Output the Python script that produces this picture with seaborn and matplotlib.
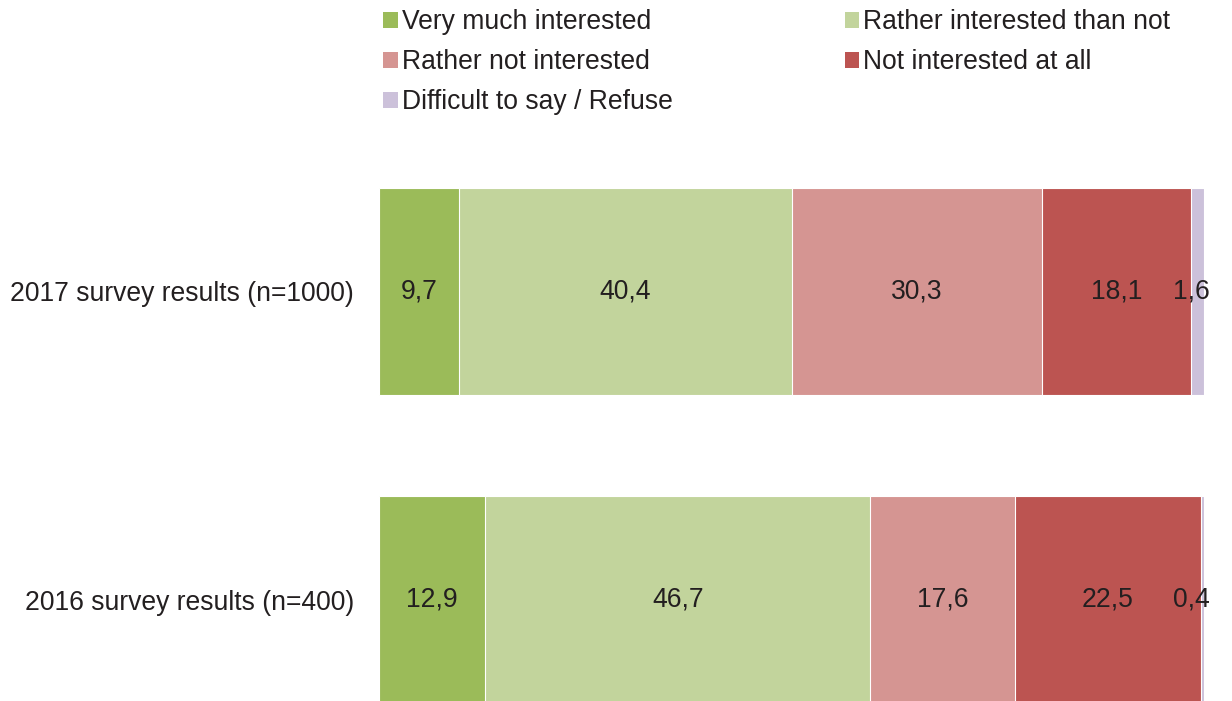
import numpy as np
import pandas as pd
import matplotlib
matplotlib.use("Agg")
import matplotlib.pyplot as plt
import seaborn as sns
from matplotlib.patches import Patch

categories = ["2017 survey results (n=1000)", "2016 survey results (n=400)"]
series = ["Very much interested", "Rather interested than not",
          "Rather not interested", "Not interested at all",
          "Difficult to say / Refuse"]
very_much = [9.7, 12.9]
rather_int = [40.4, 46.7]
rather_not = [30.3, 17.6]
not_at_all = [18.1, 22.5]
difficult = [1.6, 0.4]
colors = ["#9BBB59", "#C2D49C", "#D59592", "#BC5451", "#CCC1DA"]

values = [very_much, rather_int, rather_not, not_at_all, difficult]

sns.set_theme(style="white")
plt.rcParams["font.family"] = ["Liberation Sans", "DejaVu Sans"]
FS = 19.1
TXT = "#231F20"

fig = plt.figure(figsize=(12.32, 7.01), dpi=100)
W, H = 1232, 701
x0, x1 = 379, 1204
ytop, ybot = 130, 701
ax = fig.add_axes([x0 / W, 1 - ybot / H, (x1 - x0) / W, (ybot - ytop) / H])

vals = np.array(values)
cum = np.cumsum(vals, axis=0)
total = cum[-1]

# draw cumulative bars from largest to smallest so they stack visually
for i in range(len(series) - 1, -1, -1):
    df = pd.DataFrame({"cat": categories, "val": cum[i]})
    sns.barplot(data=df, x="val", y="cat", orient="h", color=colors[i],
                saturation=1, width=0.672, edgecolor="white", linewidth=0.8,
                ax=ax)

for j in range(len(categories)):
    for i in range(len(series)):
        v = vals[i, j]
        lbl = f"{v:.1f}".replace(".", ",")
        if i == len(series) - 1:
            ax.annotate(lbl, xy=(total[j], j), xytext=(4, 0),
                        textcoords="offset points", ha="right", va="center",
                        fontsize=FS, color=TXT)
        else:
            ax.text(cum[i, j] - v / 2, j, lbl, ha="center", va="center",
                    fontsize=FS, color=TXT)

ax.set_xlim(0, total.max())
ax.set_ylim((ybot - 291.5) / 308, (ytop - 291.5) / 308)
ax.set_xlabel("")
ax.set_ylabel("")
ax.set_xticks([])
for s in ax.spines.values():
    s.set_visible(False)
ax.tick_params(axis="y", length=0, pad=18, labelsize=FS, labelcolor=TXT)

order = [0, 2, 4, 1, 3]
handles = [Patch(facecolor=colors[k], edgecolor="none") for k in order]
labels = [series[k] for k in order]
fig.legend(handles, labels, ncol=2, loc="upper left",
           bbox_to_anchor=(379 / W, 1 - 5 / H), frameon=False,
           fontsize=FS, handlelength=0.55, handleheight=0.55,
           handletextpad=0.15, columnspacing=6.5, labelspacing=0.53,
           borderaxespad=0, borderpad=0.15, labelcolor=TXT)

fig.savefig("out.png", dpi=100)
